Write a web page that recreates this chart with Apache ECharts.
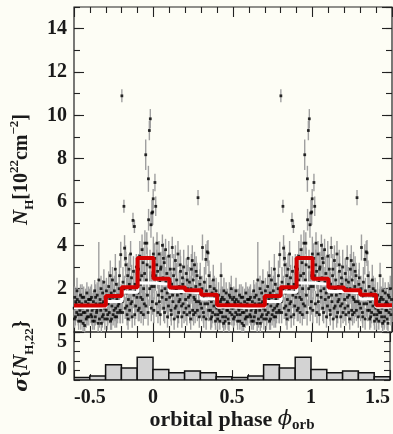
<!DOCTYPE html>
<html><head><meta charset="utf-8">
<script src="https://cdn.jsdelivr.net/npm/echarts@6/dist/echarts.min.js"></script>
<style>html,body{margin:0;padding:0;background:#fdfdf5}#c{width:393px;height:434px}</style>
</head><body><div id="c"></div>
<script>
// phase-binned statistics (one orbital cycle, bins of 0.1 starting at these phases)
const binStarts = [0.0, 0.1, 0.2, 0.3, 0.4, 0.5, 0.6, 0.7, 0.8, 0.9];
const meanNH   = [2.46, 2.05, 1.93, 1.72, 1.23, 1.22, 1.22, 1.66, 2.07, 3.41];
const medianNH = [2.20, 1.87, 1.80, 1.52, 1.15, 1.12, 1.15, 1.41, 1.83, 2.26];
const sigmaNH  = [1.09, 0.76, 0.95, 0.76, 0.34, 0.28, 0.42, 1.60, 1.26, 2.38];
// individual measurements: [orbital phase, N_H (1e22 cm^-2), error]
const points = [
[0.004,2.1,0.6],[0.008,3.4,0.7],[0.009,6.9,0.4],[0.014,5.8,0.45],[0.018,1.3,0.6],[0.022,4.1,0.5],[0.026,2.8,0.8],[0.031,1.7,0.6],[0.035,3.6,0.6],[0.039,2.3,0.7],[0.043,0.8,0.5],[0.047,3.0,0.7],[0.052,1.9,0.6],[0.056,4.0,0.5],[0.060,2.5,0.8],[0.064,1.1,0.6],[0.068,3.2,0.6],[0.072,2.0,0.7],[0.076,3.8,0.5],[0.080,1.5,0.6],[0.084,2.7,0.8],[0.088,0.7,0.5],[0.092,2.2,0.6],[0.096,3.5,0.7],
[0.002,1.0,0.6],[0.012,2.6,0.7],[0.020,3.1,0.7],[0.028,0.9,0.5],[0.037,1.4,0.6],[0.045,2.9,0.7],[0.054,1.6,0.6],[0.062,3.4,0.7],[0.070,0.9,0.5],[0.078,2.3,0.7],[0.086,1.8,0.6],[0.094,1.2,0.6],
[0.102,1.6,0.6],[0.106,2.9,0.7],[0.110,1.0,0.5],[0.114,2.2,0.6],[0.118,3.9,0.5],[0.122,1.4,0.6],[0.126,2.6,0.7],[0.130,0.6,0.5],[0.134,1.9,0.6],[0.138,3.3,0.7],[0.142,1.2,0.5],[0.146,2.4,0.8],[0.150,1.7,0.6],[0.154,3.6,0.6],[0.158,0.9,0.5],[0.162,2.1,0.7],[0.166,1.5,0.6],[0.170,2.8,0.7],[0.174,1.8,0.5],[0.178,0.7,0.5],[0.182,2.5,0.6],[0.186,1.3,0.6],[0.190,3.0,0.8],[0.195,1.9,0.6],
[0.104,2.3,0.7],[0.112,0.8,0.5],[0.120,1.7,0.6],[0.128,2.9,0.7],[0.136,1.1,0.5],[0.144,2.0,0.6],[0.152,0.7,0.5],[0.160,1.4,0.6],[0.168,3.1,0.7],[0.176,1.2,0.6],[0.184,2.2,0.7],[0.192,0.9,0.5],
[0.202,1.5,0.6],[0.206,2.7,0.7],[0.210,0.8,0.5],[0.214,2.0,0.6],[0.218,3.4,0.6],[0.222,1.2,0.5],[0.226,2.3,0.7],[0.230,1.7,0.6],[0.234,0.6,0.5],[0.238,2.9,0.7],[0.242,1.9,0.6],[0.246,1.0,0.5],[0.250,2.4,0.8],[0.254,1.6,0.6],[0.258,3.1,0.6],[0.262,0.9,0.5],[0.266,2.1,0.6],[0.270,1.4,0.7],[0.274,2.6,0.6],[0.280,6.2,0.35],[0.284,1.8,0.6],[0.288,0.7,0.5],[0.292,2.2,0.7],[0.296,1.3,0.6],
[0.204,1.1,0.6],[0.212,2.4,0.7],[0.220,1.6,0.6],[0.228,0.9,0.5],[0.236,2.0,0.6],[0.244,3.3,0.7],[0.252,0.8,0.5],[0.260,1.5,0.6],[0.268,2.8,0.7],[0.276,1.0,0.5],[0.286,1.4,0.6],[0.294,2.5,0.7],
[0.303,1.1,0.6],[0.308,3.9,0.6],[0.312,1.6,0.6],[0.316,0.7,0.5],[0.320,2.3,0.7],[0.324,1.3,0.6],[0.329,3.35,0.7],[0.333,1.9,0.6],[0.338,3.7,0.5],[0.343,3.65,0.6],[0.347,1.0,0.5],[0.351,1.5,0.6],[0.356,2.1,0.7],[0.360,0.6,0.5],[0.364,1.4,0.6],[0.368,1.8,0.6],[0.372,0.9,0.5],[0.376,2.4,0.7],[0.380,1.2,0.5],[0.385,1.6,0.6],[0.390,0.5,0.4],[0.394,1.9,0.6],[0.398,1.1,0.5],
[0.305,2.0,0.6],[0.314,0.9,0.5],[0.322,1.7,0.6],[0.331,0.6,0.5],[0.340,1.3,0.6],[0.349,2.6,0.7],[0.358,1.0,0.5],[0.366,0.7,0.5],[0.374,1.5,0.6],[0.382,2.0,0.6],[0.388,0.8,0.5],[0.396,1.3,0.6],
[0.402,1.3,0.5],[0.405,0.8,0.4],[0.409,1.7,0.6],[0.413,1.0,0.5],[0.417,0.5,0.4],[0.421,1.4,0.6],[0.425,2.6,0.6],[0.429,0.9,0.5],[0.433,1.6,0.5],[0.437,1.1,0.6],[0.441,0.4,0.4],[0.445,1.5,0.5],[0.449,1.2,0.6],[0.453,0.7,0.5],[0.457,1.8,0.5],[0.461,1.0,0.4],[0.465,1.4,0.6],[0.469,0.6,0.5],[0.473,1.3,0.5],[0.477,1.7,0.6],[0.481,0.9,0.4],[0.485,1.2,0.5],[0.489,2.0,0.6],[0.493,0.8,0.5],[0.497,1.5,0.5],
[0.403,0.6,0.5],[0.411,1.2,0.6],[0.419,0.9,0.5],[0.427,1.5,0.6],[0.435,0.7,0.5],[0.443,1.9,0.6],[0.451,0.5,0.4],[0.459,1.3,0.6],[0.467,1.0,0.5],[0.475,0.4,0.4],[0.483,1.6,0.6],[0.491,1.1,0.5],
[0.501,1.1,0.5],[0.505,1.6,0.5],[0.509,0.7,0.4],[0.513,1.3,0.6],[0.517,0.9,0.4],[0.521,1.5,0.5],[0.525,1.2,0.5],[0.529,0.5,0.4],[0.533,1.4,0.6],[0.537,1.0,0.5],[0.541,1.7,0.5],[0.545,0.8,0.4],[0.549,1.3,0.5],[0.553,1.1,0.6],[0.557,0.4,0.4],[0.561,1.6,0.5],[0.565,1.2,0.5],[0.569,0.9,0.4],[0.573,1.4,0.6],[0.577,0.6,0.4],[0.581,1.8,0.5],[0.585,1.0,0.5],[0.589,1.3,0.6],[0.593,0.7,0.4],[0.597,1.5,0.5],
[0.503,0.6,0.4],[0.511,1.4,0.6],[0.519,1.9,0.6],[0.527,0.8,0.5],[0.535,1.1,0.5],[0.543,0.5,0.4],[0.551,1.6,0.6],[0.559,0.9,0.5],[0.567,0.3,0.4],[0.575,1.2,0.6],[0.583,0.7,0.4],[0.591,1.5,0.6],
[0.602,1.2,0.5],[0.606,0.8,0.4],[0.610,1.6,0.6],[0.614,1.0,0.5],[0.618,0.5,0.4],[0.622,1.4,0.5],[0.626,1.1,0.6],[0.630,1.9,0.5],[0.634,0.7,0.4],[0.638,1.3,0.5],[0.642,0.9,0.5],[0.646,1.7,0.6],[0.650,1.2,0.5],[0.656,2.4,1.75],[0.660,0.6,0.4],[0.664,1.5,0.6],[0.668,1.0,0.5],[0.672,0.4,0.4],[0.676,1.3,0.5],[0.680,1.8,0.6],[0.684,0.8,0.4],[0.688,2.3,0.6],[0.692,1.1,0.5],[0.696,1.6,0.6],
[0.604,1.5,0.6],[0.612,0.7,0.4],[0.620,1.2,0.6],[0.628,0.5,0.4],[0.636,1.6,0.6],[0.644,1.0,0.5],[0.652,0.4,0.4],[0.662,1.3,0.6],[0.670,2.0,0.6],[0.678,0.7,0.5],[0.686,1.4,0.6],[0.694,0.6,0.5],
[0.702,1.0,0.5],[0.706,1.6,0.6],[0.710,0.6,0.5],[0.714,1.3,0.6],[0.718,2.1,0.7],[0.722,0.9,0.5],[0.726,1.5,0.6],[0.730,0.5,0.4],[0.734,1.8,0.7],[0.738,1.2,0.5],[0.742,2.4,0.6],[0.746,0.8,0.5],[0.750,1.4,0.6],[0.754,1.9,0.7],[0.758,0.7,0.5],[0.762,1.1,0.6],[0.766,2.2,0.6],[0.770,1.5,0.7],[0.774,0.9,0.5],[0.778,1.7,0.6],[0.782,1.3,0.5],[0.786,2.6,0.7],[0.790,1.0,0.6],[0.794,3.57,0.6],[0.797,1.6,0.6],
[0.704,1.9,0.6],[0.712,0.8,0.5],[0.720,1.4,0.6],[0.728,2.6,0.7],[0.736,0.6,0.5],[0.744,1.6,0.6],[0.752,1.0,0.5],[0.760,2.9,0.7],[0.768,0.7,0.5],[0.776,1.2,0.6],[0.784,2.0,0.6],[0.792,0.9,0.5],
[0.801,10.9,0.3],[0.804,1.4,0.6],[0.808,2.3,0.7],[0.814,5.8,0.3],[0.818,3.87,0.6],[0.822,1.1,0.5],[0.826,3.1,0.6],[0.830,1.8,0.7],[0.834,0.8,0.5],[0.838,2.6,0.6],[0.842,1.5,0.6],[0.846,2.9,0.7],[0.850,1.0,0.5],[0.854,2.0,0.6],[0.858,1.3,0.7],[0.862,2.5,0.6],[0.866,0.7,0.5],[0.871,5.15,0.35],[0.876,1.7,0.6],[0.880,4.87,0.3],[0.884,2.2,0.7],[0.888,1.2,0.6],[0.892,3.0,0.6],[0.896,1.6,0.7],
[0.806,0.9,0.5],[0.816,2.0,0.6],[0.824,3.4,0.6],[0.832,1.2,0.6],[0.840,0.6,0.5],[0.848,2.2,0.7],[0.856,3.6,0.6],[0.864,1.4,0.6],[0.874,2.8,0.7],[0.882,0.8,0.5],[0.890,1.9,0.6],[0.898,2.7,0.7],
[0.902,1.8,0.6],[0.906,2.9,0.7],[0.910,1.1,0.6],[0.914,3.5,0.7],[0.918,2.2,0.6],[0.922,0.9,0.5],[0.926,2.6,0.8],[0.930,1.5,0.6],[0.934,3.2,0.7],[0.938,2.0,0.6],[0.942,1.3,0.7],[0.946,4.1,0.6],[0.951,8.18,0.7],[0.955,2.4,0.8],[0.958,4.1,0.5],[0.962,1.7,0.6],[0.968,7.07,0.6],[0.969,5.18,0.5],[0.974,9.3,0.45],[0.978,3.0,0.8],[0.980,9.84,0.45],[0.984,4.95,0.6],[0.988,2.1,0.7],[0.990,5.49,0.6],[0.993,1.4,0.6],[0.995,5.54,0.6],[0.998,6.15,0.45],[0.999,3.6,0.8],
[0.904,1.0,0.5],[0.912,2.4,0.7],[0.920,1.6,0.6],[0.928,3.8,0.7],[0.936,0.8,0.5],[0.944,2.7,0.8],[0.952,1.2,0.6],[0.960,3.1,0.8],[0.966,0.9,0.6],[0.976,2.0,0.8],[0.986,1.1,0.6],[0.996,2.6,0.8]
];
const xTickLabels = ['-0.5', '0', '0.5', '1', '1.5'];

const X_MIN = -0.5, X_MAX = 1.5;
// phase-folded data are shown over two cycles (repeat of the same measurements)
const shown = [];
points.forEach(p => {
  [-1, 0, 1].forEach(s => {
    const x = p[0] + s;
    if (x >= X_MIN && x <= X_MAX) shown.push([x, p[1], p[2]]);
  });
});
function binsOverRange(vals) {
  const out = [];
  for (let c = -1; c <= 1; c++) {
    binStarts.forEach((b, i) => {
      const x = +(b + c).toFixed(3);
      if (x >= X_MIN - 1e-9 && x < X_MAX - 1e-9) out.push([x, vals[i]]);
    });
  }
  out.sort((a, b) => a[0] - b[0]);
  return out;
}
const meanBins = binsOverRange(meanNH);
const medBins = binsOverRange(medianNH);
const sigBins = binsOverRange(sigmaNH);
const stepLine = bins => bins.concat([[X_MAX, bins[bins.length - 1][1]]]);

const FONT = "'Liberation Serif', 'DejaVu Serif', serif";
const TXT = '#1a1a1a';
const tickLabel = {fontFamily: FONT, fontWeight: 'bold', fontSize: 20, color: TXT};

function xAx(grid, pos, showLabel, extra) {
  return Object.assign({
    type: 'value', gridIndex: grid, position: pos, min: X_MIN, max: X_MAX, interval: 0.5,
    axisLine: {show: false, onZero: false}, splitLine: {show: false},
    axisTick: {show: true, inside: true, length: 10, lineStyle: {color: '#222', width: 1.1}},
    minorTick: {show: true, splitNumber: 5, length: 6, lineStyle: {color: '#222', width: 1.1}},
    axisLabel: Object.assign({show: showLabel, margin: 8,
      formatter: v => { const i = Math.round((v - X_MIN) / 0.5); return xTickLabels[i] !== undefined ? xTickLabels[i] : ''; },
      alignMinLabel: 'left', alignMaxLabel: 'right'}, tickLabel)
  }, extra || {});
}
function yAx(grid, pos, min, max, interval, len, label, extra) {
  return Object.assign({
    type: 'value', gridIndex: grid, position: pos, min: min, max: max, interval: interval,
    axisLine: {show: false, onZero: false}, splitLine: {show: false},
    axisTick: {show: true, inside: true, length: len, lineStyle: {color: '#222', width: 1.1}},
    axisLabel: label ? Object.assign({show: true, margin: 7}, tickLabel, label) : {show: false}
  }, extra || {});
}

const option = {
  backgroundColor: '#fdfdf5',
  animation: false,
  grid: [
    {left: 68, right: 1, top: 7, height: 325, show: true, borderColor: '#222', borderWidth: 1.2, backgroundColor: 'transparent'},
    {left: 68, right: 1, top: 332, height: 54, show: true, borderColor: '#222', borderWidth: 1.2, backgroundColor: 'transparent'}
  ],
  xAxis: [
    xAx(0, 'bottom', false),
    xAx(0, 'top', false),
    xAx(1, 'top', false),
    xAx(1, 'bottom', true, {
      name: '{t|orbital phase }{i|\u03D5}{s|orb}', nameLocation: 'middle', nameGap: 25,
      nameTextStyle: {fontFamily: FONT, color: TXT, rich: {
        t: {fontFamily: FONT, fontWeight: 'bold', fontSize: 22, color: TXT, lineHeight: 26},
        i: {fontFamily: "'DejaVu Serif', serif", fontStyle: 'italic', fontSize: 21, color: TXT, lineHeight: 26},
        s: {fontFamily: FONT, fontWeight: 'bold', fontSize: 15, color: TXT, verticalAlign: 'bottom', lineHeight: 16}
      }}
    })
  ],
  yAxis: [
    yAx(0, 'left', 0, 15, 2, 10, {showMaxLabel: false, verticalAlignMinLabel: 'bottom'}, {
      name: '{i|N}{s|H}{t|[10}{p|22}{t|cm}{p|\u22122}{t|]}', nameLocation: 'middle', nameGap: 38, nameRotate: 90,
      nameTextStyle: {fontFamily: FONT, color: TXT, rich: {
        i: {fontFamily: FONT, fontStyle: 'italic', fontWeight: 'bold', fontSize: 21, color: TXT, lineHeight: 28},
        t: {fontFamily: FONT, fontWeight: 'bold', fontSize: 20, color: TXT, lineHeight: 28},
        s: {fontFamily: FONT, fontWeight: 'bold', fontSize: 13, color: TXT, verticalAlign: 'bottom', lineHeight: 14},
        p: {fontFamily: FONT, fontWeight: 'bold', fontSize: 13, color: TXT, verticalAlign: 'top', lineHeight: 14}
      }}
    }),
    yAx(0, 'left', 0, 15, 1, 6, null),
    yAx(0, 'right', 0, 15, 2, 10, null),
    yAx(0, 'right', 0, 15, 1, 6, null),
    yAx(1, 'left', 0, 5, 1, 6, {formatter: v => (v === 0 || v === 5) ? String(v) : '', verticalAlignMinLabel: 'bottom', verticalAlignMaxLabel: 'top'}, {
      name: '{i|\u03C3}{{n|N}{s|H,22}}', nameLocation: 'middle', nameGap: 38, nameRotate: 90,
      nameTextStyle: {fontFamily: FONT, fontWeight: 'bold', fontSize: 20, lineHeight: 28, color: TXT, rich: {
        i: {fontFamily: "'DejaVu Serif', serif", fontStyle: 'italic', fontSize: 19, color: TXT, lineHeight: 28},
        n: {fontFamily: FONT, fontStyle: 'italic', fontWeight: 'bold', fontSize: 21, color: TXT, lineHeight: 28},
        s: {fontFamily: FONT, fontWeight: 'bold', fontSize: 13, color: TXT, verticalAlign: 'bottom', lineHeight: 14}
      }}
    }),
    yAx(1, 'right', 0, 5, 1, 6, null)
  ],
  series: [
    {
      type: 'custom', xAxisIndex: 0, yAxisIndex: 0, clip: true, z: 2,
      data: shown,
      renderItem: (params, api) => {
        const x = api.value(0), v = api.value(1), e = api.value(2);
        const a = api.coord([x, v - e]), b = api.coord([x, v + e]);
        return {type: 'line', shape: {x1: a[0], y1: a[1], x2: b[0], y2: b[1]}, style: {stroke: '#a0a0a0', lineWidth: 1.4}};
      }
    },
    {
      type: 'scatter', xAxisIndex: 0, yAxisIndex: 0, z: 3,
      data: shown.map(p => [p[0], p[1]]),
      symbol: 'rect', symbolSize: 2.8, itemStyle: {color: '#000'}
    },
    {
      type: 'line', xAxisIndex: 0, yAxisIndex: 0, z: 4, step: 'end', symbol: 'none',
      data: stepLine(medBins), lineStyle: {color: '#ffffff', width: 3}
    },
    {
      type: 'line', xAxisIndex: 0, yAxisIndex: 0, z: 5, step: 'end', symbol: 'none',
      data: stepLine(meanBins), lineStyle: {color: '#d40000', width: 4}
    },
    {
      type: 'custom', xAxisIndex: 3, yAxisIndex: 4, clip: true, z: 2,
      data: sigBins,
      renderItem: (params, api) => {
        const x = api.value(0), v = api.value(1);
        const a = api.coord([x, 0]), b = api.coord([x + 0.1, v]);
        return {type: 'rect', shape: {x: a[0], y: b[1], width: b[0] - a[0], height: a[1] - b[1]},
          style: {fill: '#d3d3d3', stroke: '#111', lineWidth: 1.5}};
      }
    }
  ]
};
const chart = echarts.init(document.getElementById('c'), null, {renderer: 'canvas'});
chart.setOption(option);
</script>
</body></html>
